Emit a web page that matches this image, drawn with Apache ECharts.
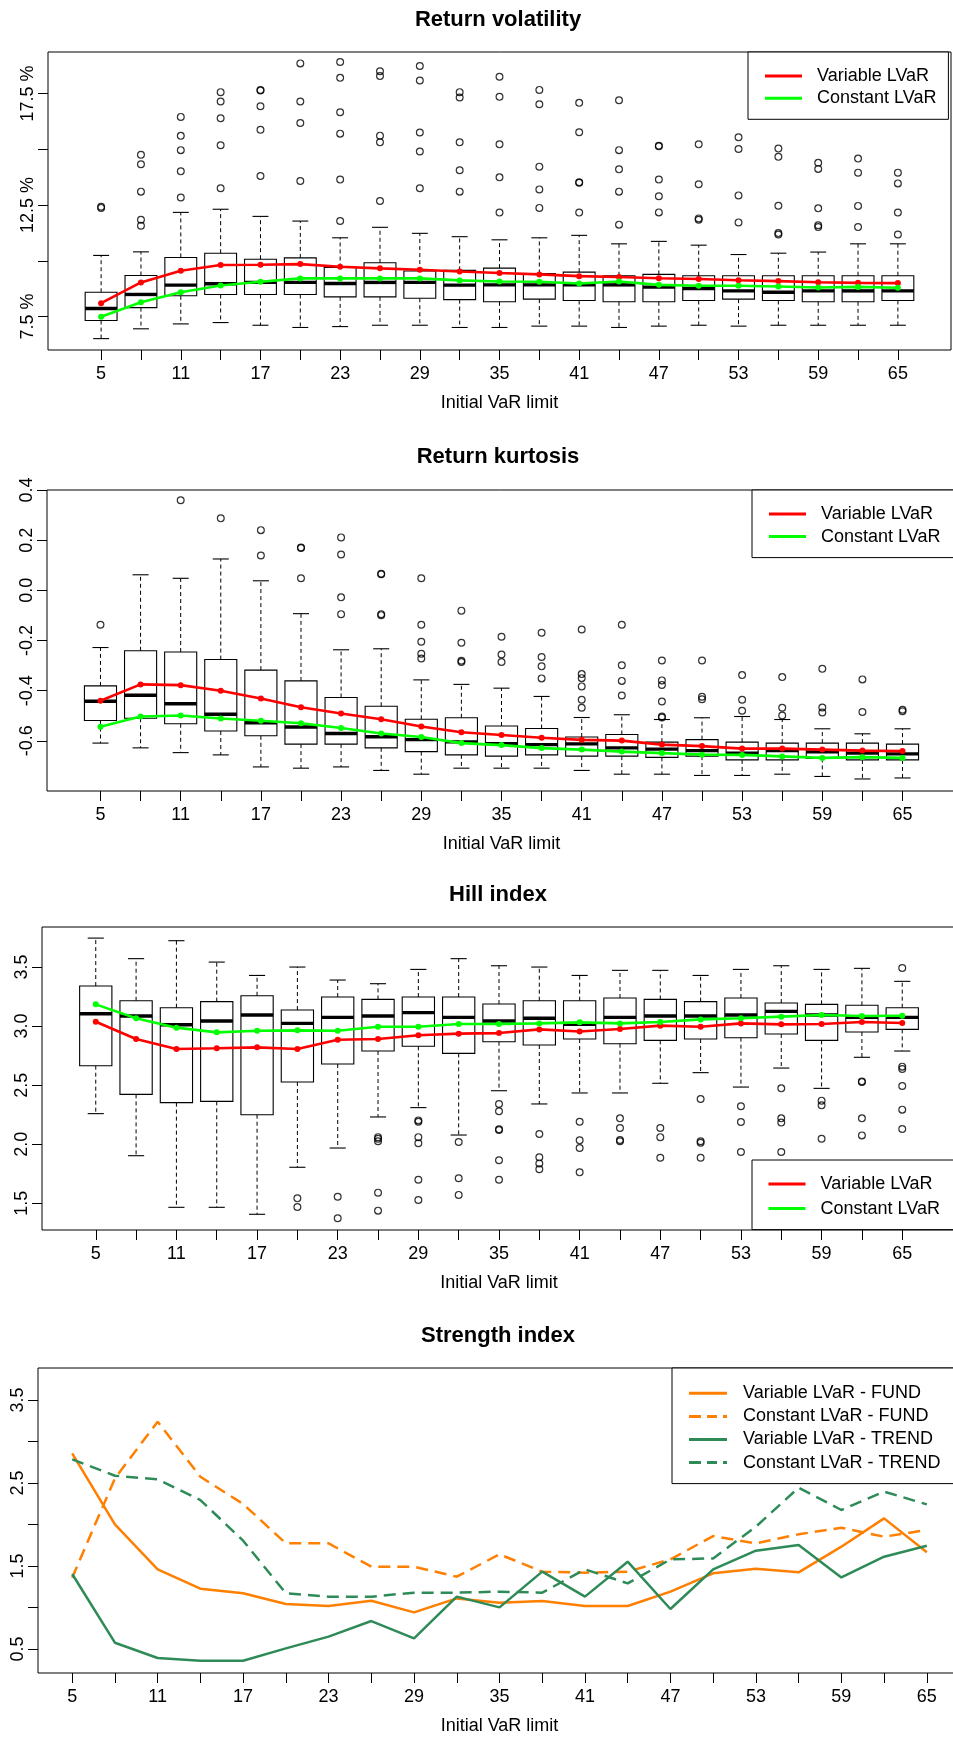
<!DOCTYPE html>
<html><head><meta charset="utf-8">
<script src="https://cdn.jsdelivr.net/npm/echarts@6/dist/echarts.min.js"></script>
<style>html,body{margin:0;padding:0;background:#fff}#chart{width:953px;height:1740px}</style>
</head><body><div id="chart"></div>
<script>
// ---------------- data ----------------
const limits = [5,8,11,14,17,20,23,26,29,32,35,38,41,44,47,50,53,56,59,62,65];
const xTickLabels = [5,11,17,23,29,35,41,47,53,59,65];

// Return volatility (%)
const volLow  = [6.51,6.95,7.17,7.23,7.11,7.01,7.05,7.11,7.11,7.01,7.01,7.07,7.07,7.01,7.07,7.11,7.07,7.11,7.11,7.11,7.11];
const volQ1   = [7.32,7.90,8.43,8.49,8.49,8.49,8.38,8.38,8.32,8.26,8.16,8.28,8.22,8.16,8.16,8.22,8.28,8.22,8.16,8.16,8.22];
const volMed  = [7.86,8.49,8.91,8.97,9.03,9.03,8.98,9.03,9.03,8.91,8.92,8.92,8.92,8.92,8.82,8.76,8.65,8.59,8.65,8.65,8.65];
const volQ3   = [8.59,9.34,10.15,10.34,10.07,10.13,9.70,9.91,9.54,9.57,9.67,9.43,9.49,9.33,9.39,9.33,9.33,9.33,9.33,9.33,9.33];
const volHigh = [10.24,10.40,12.17,12.31,11.99,11.78,11.03,11.50,11.23,11.08,10.94,11.03,11.14,10.76,10.87,10.70,10.28,10.34,10.39,10.76,10.76];
const volOutliers = [
  [12.37,12.42],
  [14.75,14.33,13.10,11.84,11.57],
  [16.45,15.60,14.96,14.01,12.84],
  [17.56,17.14,16.39,15.18,13.25],
  [17.66,17.63,16.93,15.87,13.80],
  [18.85,17.14,16.18,13.58],
  [18.91,18.20,16.66,15.70,13.64,11.78],
  [18.50,18.28,15.61,15.31,12.68],
  [18.73,18.08,15.75,14.90,13.25],
  [17.56,17.32,15.31,14.06,13.10],
  [18.25,17.35,15.22,13.74,12.16],
  [17.66,17.02,14.22,13.20,12.37],
  [17.08,15.76,13.52,13.50,12.16],
  [17.20,14.96,14.10,13.10,11.62],
  [15.16,15.13,13.64,12.89,12.17],
  [15.22,13.43,11.90,11.84],
  [15.54,15.01,12.93,11.72],
  [15.03,14.66,12.47,11.24,11.18],
  [14.39,14.12,12.35,11.59,11.51],
  [14.58,13.95,12.46,11.51],
  [13.95,13.47,12.16,11.18]
];
const volVariable = [8.10,9.03,9.55,9.81,9.82,9.85,9.73,9.66,9.60,9.52,9.45,9.39,9.31,9.27,9.22,9.18,9.13,9.09,9.04,9.01,9.00];
const volConstant = [7.49,8.14,8.59,8.89,9.06,9.21,9.21,9.21,9.21,9.12,9.07,9.06,8.98,9.07,8.92,8.88,8.88,8.85,8.80,8.83,8.79];
const volYTicks  = [7.5,10,12.5,15,17.5];
const volYLabels = [7.5,12.5,17.5];

// Return kurtosis
const kurLow  = [-0.609,-0.628,-0.647,-0.656,-0.704,-0.709,-0.704,-0.718,-0.733,-0.709,-0.709,-0.709,-0.718,-0.733,-0.733,-0.738,-0.738,-0.733,-0.742,-0.752,-0.748];
const kurQ1   = [-0.519,-0.510,-0.532,-0.561,-0.580,-0.613,-0.613,-0.628,-0.643,-0.656,-0.661,-0.656,-0.661,-0.661,-0.666,-0.661,-0.676,-0.676,-0.670,-0.676,-0.676];
const kurMed  = [-0.442,-0.418,-0.452,-0.494,-0.528,-0.545,-0.571,-0.584,-0.595,-0.604,-0.611,-0.615,-0.612,-0.628,-0.633,-0.639,-0.649,-0.639,-0.644,-0.649,-0.652];
const kurQ3   = [-0.381,-0.241,-0.246,-0.276,-0.318,-0.361,-0.427,-0.462,-0.514,-0.508,-0.541,-0.551,-0.585,-0.575,-0.605,-0.595,-0.605,-0.609,-0.609,-0.609,-0.613];
const kurHigh = [-0.228,0.062,0.048,0.125,0.038,-0.093,-0.237,-0.233,-0.357,-0.375,-0.390,-0.423,-0.507,-0.496,-0.515,-0.508,-0.503,-0.515,-0.552,-0.572,-0.552];
const kurOutliers = [
  [-0.137],
  [],
  [0.359],
  [0.287],
  [0.240,0.139],
  [0.171,0.169,0.048],
  [0.211,0.143,-0.028,-0.095],
  [0.066,0.064,-0.095,-0.099],
  [0.048,-0.137,-0.205,-0.253,-0.272],
  [-0.081,-0.209,-0.281,-0.286],
  [-0.185,-0.256,-0.286],
  [-0.169,-0.266,-0.303,-0.351],
  [-0.156,-0.334,-0.350,-0.383,-0.436,-0.468],
  [-0.137,-0.299,-0.361,-0.419],
  [-0.280,-0.359,-0.377,-0.443,-0.503,-0.507],
  [-0.280,-0.424,-0.434],
  [-0.338,-0.436,-0.480],
  [-0.346,-0.468,-0.499],
  [-0.313,-0.467,-0.487],
  [-0.355,-0.485],
  [-0.476,-0.482]
];
const kurVariable = [-0.440,-0.375,-0.378,-0.400,-0.431,-0.466,-0.491,-0.514,-0.543,-0.566,-0.577,-0.588,-0.596,-0.599,-0.615,-0.621,-0.631,-0.631,-0.635,-0.639,-0.641];
const kurConstant = [-0.544,-0.503,-0.499,-0.511,-0.520,-0.530,-0.549,-0.571,-0.585,-0.609,-0.617,-0.629,-0.635,-0.643,-0.649,-0.655,-0.656,-0.662,-0.668,-0.665,-0.668];
const kurYTicks = [-0.6,-0.4,-0.2,0,0.2,0.4];

// Hill index
const hillLow  = [2.259,1.903,1.466,1.466,1.407,1.805,1.968,2.231,2.310,2.078,2.453,2.341,2.434,2.434,2.516,2.606,2.484,2.645,2.473,2.736,2.789];
const hillQ1   = [2.665,2.422,2.352,2.363,2.250,2.527,2.679,2.789,2.829,2.769,2.868,2.840,2.891,2.851,2.879,2.891,2.902,2.933,2.879,2.950,2.972];
const hillMed  = [3.105,3.085,3.012,3.043,3.094,3.023,3.074,3.085,3.114,3.074,3.043,3.066,3.015,3.074,3.085,3.085,3.094,3.125,3.094,3.074,3.074];
const hillQ3   = [3.339,3.215,3.156,3.207,3.257,3.136,3.246,3.226,3.246,3.246,3.187,3.215,3.215,3.238,3.226,3.207,3.238,3.195,3.184,3.176,3.156];
const hillHigh = [3.745,3.571,3.723,3.542,3.429,3.500,3.390,3.359,3.480,3.571,3.511,3.500,3.429,3.472,3.472,3.429,3.480,3.511,3.480,3.489,3.379];
const hillOutliers = [
  [],[],[],[],[],
  [1.542,1.469],
  [1.556,1.373],
  [2.060,2.047,2.025,1.590,1.438],
  [2.202,2.191,2.060,2.008,1.700,1.528],
  [2.019,1.712,1.571],
  [2.341,2.279,2.126,2.121,1.864,1.700],
  [2.087,1.889,1.838,1.788],
  [2.191,2.033,1.968,1.762],
  [2.219,2.137,2.036,2.025],
  [2.137,2.060,1.886],
  [2.383,2.025,2.013,1.886],
  [2.321,2.188,1.934],
  [2.473,2.219,2.183,1.934],
  [2.369,2.329,2.047],
  [2.532,2.527,2.219,2.075],
  [3.492,2.657,2.637,2.493,2.293,2.129]
];
const hillVariable = [3.037,2.891,2.806,2.812,2.820,2.806,2.885,2.891,2.922,2.936,2.941,2.972,2.955,2.975,3.004,2.995,3.023,3.015,3.018,3.035,3.026];
const hillConstant = [3.184,3.066,2.987,2.947,2.961,2.964,2.961,2.995,2.995,3.018,3.018,3.023,3.032,3.023,3.035,3.057,3.066,3.080,3.094,3.085,3.088];
const hillYTicks = [1.5,2,2.5,3,3.5];

// Strength index
const fundVariable  = [2.857,2.002,1.460,1.227,1.171,1.042,1.018,1.082,0.942,1.110,1.058,1.078,1.018,1.018,1.191,1.412,1.468,1.424,1.733,2.074,1.665];
const fundConstant  = [1.359,2.556,3.239,2.576,2.247,1.773,1.773,1.492,1.492,1.371,1.641,1.432,1.420,1.432,1.580,1.861,1.773,1.882,1.962,1.853,1.934];
const trendVariable = [1.404,0.576,0.392,0.359,0.359,0.508,0.649,0.837,0.629,1.131,1.002,1.432,1.131,1.552,0.982,1.460,1.685,1.753,1.363,1.612,1.745];
const trendConstant = [2.785,2.588,2.544,2.295,1.805,1.171,1.131,1.131,1.179,1.179,1.191,1.179,1.460,1.291,1.580,1.592,1.974,2.444,2.175,2.396,2.243];
const strYTicks  = [0.5,1,1.5,2,2.5,3,3.5];
const strYLabels = [0.5,1.5,2.5,3.5];

// ---------------- helpers ----------------
const FONT = "'Liberation Sans', Arial, sans-serif";
const BOX_W = 2.4;

function boxData(lo, q1, md, q3, hi) {
  return limits.map((x, i) => [x, lo[i], q1[i], md[i], q3[i], hi[i]]);
}
function outlierData(outl) {
  const out = [];
  limits.forEach((x, i) => outl[i].forEach(v => out.push([x, v])));
  return out;
}
function pairs(vals) { return limits.map((x, i) => [x, vals[i]]); }

function boxRender(params, api) {
  const x = api.value(0);
  const pLo = api.coord([x, api.value(1)]);
  const pQ1 = api.coord([x, api.value(2)]);
  const pMd = api.coord([x, api.value(3)]);
  const pQ3 = api.coord([x, api.value(4)]);
  const pHi = api.coord([x, api.value(5)]);
  const w = api.size([BOX_W, 0])[0];
  const cx = pMd[0];
  const dash = {stroke: '#000', lineWidth: 1, lineDash: [4, 3]};
  const solid = {stroke: '#000', lineWidth: 1.1};
  return {
    type: 'group',
    children: [
      {type: 'line', shape: {x1: cx, y1: pQ3[1], x2: cx, y2: pHi[1]}, style: dash},
      {type: 'line', shape: {x1: cx, y1: pQ1[1], x2: cx, y2: pLo[1]}, style: dash},
      {type: 'line', shape: {x1: cx - w / 4, y1: pHi[1], x2: cx + w / 4, y2: pHi[1]}, style: solid},
      {type: 'line', shape: {x1: cx - w / 4, y1: pLo[1], x2: cx + w / 4, y2: pLo[1]}, style: solid},
      {type: 'rect', shape: {x: cx - w / 2, y: pQ3[1], width: w, height: pQ1[1] - pQ3[1]},
        style: {fill: 'transparent', stroke: '#000', lineWidth: 1.1}},
      {type: 'line', shape: {x1: cx - w / 2, y1: pMd[1], x2: cx + w / 2, y2: pMd[1]},
        style: {stroke: '#000', lineWidth: 3.4}}
    ]
  };
}

function gridOpt(left, top, width, height) {
  return {left, top, width, height, show: true, borderColor: '#000', borderWidth: 1,
    backgroundColor: 'transparent', containLabel: false, outerBoundsMode: 'none'};
}
const axisText = {fontSize: 18, color: '#000', fontFamily: FONT};
function xAxisOpt(idx, min, max) {
  return {
    type: 'value', gridIndex: idx, min, max,
    axisLine: {show: false, onZero: false}, splitLine: {show: false},
    axisTick: {show: true, length: 10, lineStyle: {color: '#000', width: 1}, customValues: limits},
    axisLabel: Object.assign({customValues: xTickLabels, margin: 15}, axisText),
    name: 'Initial VaR limit', nameLocation: 'middle', nameGap: 44,
    nameTextStyle: axisText
  };
}
function yAxisOpt(idx, min, max, ticks, labels, fmt) {
  return {
    type: 'value', gridIndex: idx, min, max,
    axisLine: {show: false, onZero: false}, splitLine: {show: false},
    axisTick: {show: true, length: 10, lineStyle: {color: '#000', width: 1}, customValues: ticks},
    axisLabel: Object.assign({customValues: labels, margin: 11, rotate: 90, formatter: fmt}, axisText)
  };
}
function boxSeries(idx, name, lo, q1, md, q3, hi, outl, vVar, vCon) {
  return [
    {type: 'custom', name: name + ' boxes', xAxisIndex: idx, yAxisIndex: idx, renderItem: boxRender,
      data: boxData(lo, q1, md, q3, hi), encode: {x: 0, y: [1, 2, 3, 4, 5]}, z: 2, silent: true},
    {type: 'scatter', name: name + ' outliers', xAxisIndex: idx, yAxisIndex: idx, data: outlierData(outl),
      symbol: 'circle', symbolSize: 6.8, z: 3, silent: true,
      itemStyle: {color: 'transparent', borderColor: '#000', borderWidth: 1.2}},
    {type: 'line', name: 'Variable LVaR', xAxisIndex: idx, yAxisIndex: idx, data: pairs(vVar),
      symbol: 'circle', symbolSize: 6, z: 4, lineStyle: {color: '#ff0000', width: 2.6},
      itemStyle: {color: '#ff0000', borderWidth: 0}},
    {type: 'line', name: 'Constant LVaR', xAxisIndex: idx, yAxisIndex: idx, data: pairs(vCon),
      symbol: 'circle', symbolSize: 6, z: 4, lineStyle: {color: '#00ff00', width: 2.6},
      itemStyle: {color: '#00ff00', borderWidth: 0}}
  ];
}

const EXT47 = ' M0,0h0.01v0.01h-0.01Z M46.99,21.99h0.01v0.01h-0.01Z';
const EXT49 = ' M0,0h0.01v0.01h-0.01Z M48.99,21.99h0.01v0.01h-0.01Z';
const iconSolid47 = 'path://M0,9.5H37V12.5H0Z' + EXT47;
const iconSolid49 = 'path://M0,9.5H38V12.5H0Z' + EXT49;
const iconDash49  = 'path://M0,9.5H12V12.5H0Z M18,9.5H28V12.5H18Z M34,9.5H38V12.5H34Z' + EXT49;
const legendText = {fontSize: 18, color: '#000', fontFamily: FONT, lineHeight: 22};
function legendOpt(left, top, padding, gap, width, items) {
  return {
    left, top, padding, orient: 'vertical', align: 'left', itemGap: gap,
    itemWidth: width, itemHeight: 22, data: items, selectedMode: false,
    borderColor: '#000', borderWidth: 1, backgroundColor: '#fff',
    itemStyle: {borderWidth: 0}, textStyle: legendText
  };
}
function titleOpt(text, y) {
  return {text, left: 498, top: y, padding: 0, textAlign: 'center', textVerticalAlign: 'middle',
    textStyle: {fontSize: 22, fontWeight: 'bold', color: '#000', fontFamily: FONT}};
}

const fmt1 = v => v.toFixed(1);
const option = {
  animation: false,
  backgroundColor: '#fff',
  title: [
    titleOpt('Return volatility', 20),
    titleOpt('Return kurtosis', 457),
    titleOpt('Hill index', 895),
    titleOpt('Strength index', 1336)
  ],
  grid: [
    gridOpt(48, 52, 903, 298),
    gridOpt(47, 490, 909, 301),
    gridOpt(42, 927, 914, 303),
    gridOpt(38, 1368, 923, 305)
  ],
  xAxis: [xAxisOpt(0, 1, 69), xAxisOpt(1, 1, 69), xAxisOpt(2, 1, 69), xAxisOpt(3, 2.6, 67.4)],
  yAxis: [
    yAxisOpt(0, 6.0, 19.36, volYTicks, volYLabels, v => v.toFixed(1) + ' %'),
    yAxisOpt(1, -0.8, 0.4, kurYTicks, kurYTicks, fmt1),
    yAxisOpt(2, 1.274, 3.839, hillYTicks, hillYTicks, fmt1),
    yAxisOpt(3, 0.211, 3.886, strYTicks, strYLabels, fmt1)
  ],
  legend: [
    legendOpt(748, 52, [13, 12, 10, 17], 0.3, 47,
      [{name: 'Variable LVaR', icon: iconSolid47}, {name: 'Constant LVaR', icon: iconSolid47}]),
    legendOpt(752, 490, [13, 30, 10, 17], 0.6, 47,
      [{name: 'Variable LVaR', icon: iconSolid47}, {name: 'Constant LVaR', icon: iconSolid47}]),
    legendOpt(752, 1160, [13, 30, 10, 16.5], 2.6, 47,
      [{name: 'Variable LVaR', icon: iconSolid47}, {name: 'Constant LVaR', icon: iconSolid47}]),
    legendOpt(672, 1368, [14.3, 30, 10, 17], 1.1, 49, [
      {name: 'Variable LVaR - FUND', icon: iconSolid49},
      {name: 'Constant LVaR - FUND', icon: iconDash49},
      {name: 'Variable LVaR - TREND', icon: iconSolid49},
      {name: 'Constant LVaR - TREND', icon: iconDash49}
    ])
  ],
  series: [].concat(
    boxSeries(0, 'vol', volLow, volQ1, volMed, volQ3, volHigh, volOutliers, volVariable, volConstant),
    boxSeries(1, 'kur', kurLow, kurQ1, kurMed, kurQ3, kurHigh, kurOutliers, kurVariable, kurConstant),
    boxSeries(2, 'hill', hillLow, hillQ1, hillMed, hillQ3, hillHigh, hillOutliers, hillVariable, hillConstant),
    [
      {type: 'line', name: 'Variable LVaR - FUND', xAxisIndex: 3, yAxisIndex: 3, data: pairs(fundVariable),
        symbol: 'none', lineStyle: {color: '#ff7f00', width: 2.5}, itemStyle: {color: '#ff7f00'}},
      {type: 'line', name: 'Constant LVaR - FUND', xAxisIndex: 3, yAxisIndex: 3, data: pairs(fundConstant),
        symbol: 'none', lineStyle: {color: '#ff7f00', width: 2.5, type: [12, 7]}, itemStyle: {color: '#ff7f00'}},
      {type: 'line', name: 'Variable LVaR - TREND', xAxisIndex: 3, yAxisIndex: 3, data: pairs(trendVariable),
        symbol: 'none', lineStyle: {color: '#2e8b57', width: 2.5}, itemStyle: {color: '#2e8b57'}},
      {type: 'line', name: 'Constant LVaR - TREND', xAxisIndex: 3, yAxisIndex: 3, data: pairs(trendConstant),
        symbol: 'none', lineStyle: {color: '#2e8b57', width: 2.5, type: [12, 7]}, itemStyle: {color: '#2e8b57'}}
    ]
  )
};

const chart = echarts.init(document.getElementById('chart'), null, {renderer: 'canvas'});
chart.setOption(option);
</script>
</body></html>
